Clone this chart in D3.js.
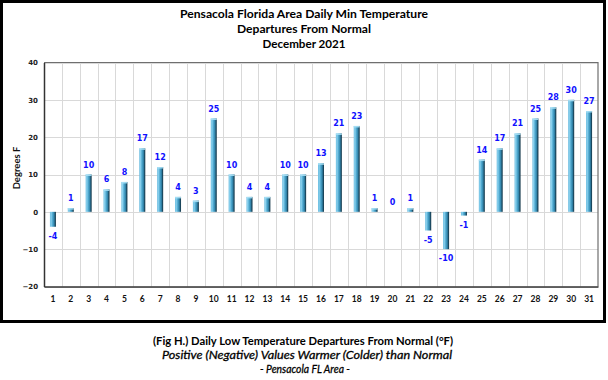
<!DOCTYPE html>
<html>
<head>
<meta charset="utf-8">
<script src="https://cdn.jsdelivr.net/npm/d3@7"></script>
<style>
  html, body { margin: 0; padding: 0; background: #fff; }
  svg { display: block; }
</style>
</head>
<body>
<svg id="chart" width="608" height="380"></svg>
<script>
const days = ["1","2","3","4","5","6","7","8","9","10","11","12","13","14","15","16","17","18","19","20","21","22","23","24","25","26","27","28","29","30","31"];
const departures = [-4,1,10,6,8,17,12,4,3,25,10,4,4,10,10,13,21,23,1,0,1,-5,-10,-1,14,17,21,25,28,30,27];
const yTicks = [-20,-10,0,10,20,30,40];
const titleLines = ["Pensacola Florida Area Daily Min Temperature","Departures From Normal","December 2021"];
const captionLines = ["(Fig H.) Daily Low Temperature Departures From Normal (°F)","Positive (Negative) Values Warmer (Colder) than Normal","- Pensacola FL Area -"];
const yTitle = "Degrees F";

const svg = d3.select("#chart");
const plot = {left: 44, right: 598, top: 62.5, bottom: 286.5};

// outer frame
svg.append("rect").attr("x",1.5).attr("y",1.5).attr("width",603).attr("height",320)
  .attr("fill","#fff").attr("stroke","#000").attr("stroke-width",3);

const defs = svg.append("defs");
const grad = defs.append("linearGradient").attr("id","barGrad").attr("x1","0").attr("x2","1").attr("y1","0").attr("y2","0");
[["0%","#5fb6dc"],["18%","#8ed3ef"],["45%","#4ea8cf"],["72%","#2f7fa4"],["85%","#1d4f68"],["100%","#16384a"]]
  .forEach(([o,c]) => grad.append("stop").attr("offset",o).attr("stop-color",c));

const x = d3.scaleBand().domain(days).range([plot.left, plot.right]).paddingInner(0).paddingOuter(0);
const y = d3.scaleLinear().domain([-20,40]).range([plot.bottom, plot.top]);

// gridlines
const g = svg.append("g");
g.selectAll("line.hgrid").data(yTicks).join("line").attr("class","hgrid")
  .attr("x1",plot.left).attr("x2",plot.right)
  .attr("y1",d=>Math.round(y(d))+0.5).attr("y2",d=>Math.round(y(d))+0.5)
  .attr("stroke","#d9d9d9").attr("stroke-width",1);
g.selectAll("line.vgrid").data(days.slice(1)).join("line").attr("class","vgrid")
  .attr("x1",d=>Math.round(x(d))+0.5).attr("x2",d=>Math.round(x(d))+0.5)
  .attr("y1",plot.top).attr("y2",plot.bottom)
  .attr("stroke","#d9d9d9").attr("stroke-width",1);

// plot border (top/right)
svg.append("path").attr("d",`M${plot.left},${plot.top}H${plot.right}V${plot.bottom}`)
  .attr("fill","none").attr("stroke","#6f6f6f").attr("stroke-width",1.2);

// bars
const bw = 6;
const data = days.map((d,i)=>({day:d, v:departures[i]}));
const bars = svg.append("g");
bars.selectAll("rect.bar").data(data.filter(d=>d.v!==0)).join("rect").attr("class","bar")
  .attr("x",d=>x(d.day)+x.bandwidth()/2-bw/2)
  .attr("width",bw)
  .attr("y",d=>Math.min(y(d.v),y(0)))
  .attr("height",d=>Math.abs(y(d.v)-y(0)))
  .attr("fill","url(#barGrad)");
bars.selectAll("rect.cap").data(data.filter(d=>d.v>0)).join("rect").attr("class","cap")
  .attr("x",d=>x(d.day)+x.bandwidth()/2-bw/2)
  .attr("width",bw).attr("y",d=>y(d.v)).attr("height",1.5)
  .attr("fill","#a8e0f5").attr("opacity",0.9);

// data labels
svg.append("g").selectAll("text").data(data).join("text")
  .attr("x",d=>x(d.day)+x.bandwidth()/2)
  .attr("y",d=>d.v<0 ? y(d.v)+12 : y(d.v)-7)
  .attr("text-anchor","middle")
  .attr("font-family","DejaVu Sans, Verdana, sans-serif")
  .attr("font-weight","bold").attr("font-size","8px")
  .attr("fill","#1010ff")
  .text(d=>d.v);

// axes
const yAxis = d3.axisLeft(y).tickValues(yTicks).tickSize(0).tickPadding(6);
const ya = svg.append("g").attr("transform",`translate(${plot.left},0)`).call(yAxis);
ya.select(".domain").attr("stroke","#333").attr("stroke-width",1.5);
ya.selectAll("text").attr("font-family","DejaVu Sans, sans-serif").attr("font-weight","bold")
  .attr("font-size","7px").attr("fill","#222");

const xAxis = d3.axisBottom(x).tickSize(0).tickPadding(9);
const xa = svg.append("g").attr("transform",`translate(0,${plot.bottom})`).call(xAxis);
xa.select(".domain").attr("stroke","#333").attr("stroke-width",1.5);
xa.selectAll("text").attr("font-family","Lato, 'Open Sans', sans-serif").attr("font-weight","bold")
  .attr("font-size","8.5px").attr("fill","#111");

// y title
svg.append("text").attr("transform","translate(20,168) rotate(-90)")
  .attr("text-anchor","middle").attr("font-family","Lato, sans-serif").attr("font-weight","bold")
  .attr("font-size","9.5px").attr("fill","#111").text(yTitle);

// title
const tW = [248,134,83];
svg.append("g").selectAll("text").data(titleLines).join("text")
  .attr("x",304).attr("y",(d,i)=>18+i*15)
  .attr("text-anchor","middle")
  .attr("font-family","Lato, sans-serif").attr("font-weight","bold").attr("font-size","12px")
  .attr("fill","#000")
  .attr("textLength",(d,i)=>tW[i]).attr("lengthAdjust","spacingAndGlyphs")
  .text(d=>d);

// caption
const cW = [300,290,90];
const cx = [303,307,305];
svg.append("g").selectAll("text").data(captionLines).join("text")
  .attr("x",(d,i)=>cx[i]).attr("y",(d,i)=>345+i*14)
  .attr("text-anchor","middle")
  .attr("font-family","Lato, sans-serif")
  .attr("font-weight",(d,i)=>i===0?"bold":"normal")
  .attr("font-style",(d,i)=>i===0?"normal":"italic")
  .attr("font-size","12px")
  .attr("fill","#000")
  .attr("stroke",(d,i)=>i===0?"none":"#000")
  .attr("stroke-width",0.3)
  .attr("textLength",(d,i)=>cW[i]).attr("lengthAdjust","spacingAndGlyphs")
  .text(d=>d);
</script>
</body>
</html>
